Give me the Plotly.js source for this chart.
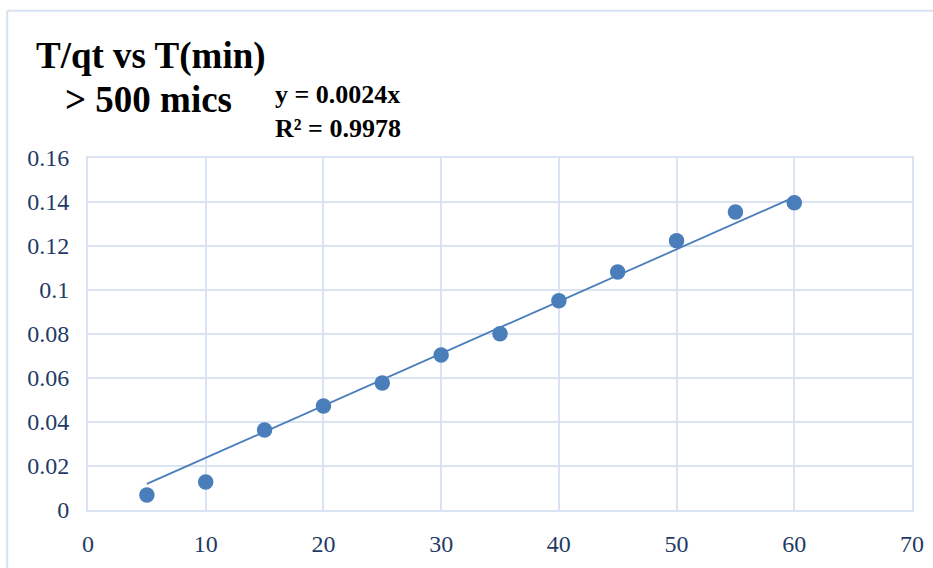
<!DOCTYPE html>
<html><head><meta charset="utf-8">
<script src="https://cdn.plot.ly/plotly-3.0.1.min.js"></script>
<style>html,body{margin:0;padding:0;background:#fff;}#c{width:933px;height:568px;}</style>
</head><body><div id="c"></div>
<script>
const timeMin = [5, 10, 15, 20, 25, 30, 35, 40, 45, 50, 55, 60];
const tOverQt = [0.0068, 0.0127, 0.0364, 0.0473, 0.0577, 0.0705, 0.0801, 0.0951, 0.1082, 0.1224, 0.1355, 0.1397];
const fittedSlope = 0.00237;
const trendX = [5, 60];
const trendY = trendX.map(x => fittedSlope * x);
const xTicks = [0, 10, 20, 30, 40, 50, 60, 70];
const yTicks = [0, 0.02, 0.04, 0.06, 0.08, 0.1, 0.12, 0.14, 0.16];
const yTickText = ['0', '0.02', '0.04', '0.06', '0.08', '0.1', '0.12', '0.14', '0.16'];

const blue = '#4a7ebb';
const grid = '#d9e3f1';
const tickFont = {family: 'Liberation Serif, serif', size: 24, color: '#1f3b66'};

const data = [
  {x: trendX, y: trendY, mode: 'lines', type: 'scatter', line: {color: blue, width: 1.8}, hoverinfo: 'skip', showlegend: false},
  {x: timeMin, y: tOverQt, mode: 'markers', type: 'scatter', marker: {color: blue, size: 15.5}, showlegend: false}
];

const layout = {
  width: 933, height: 568,
  margin: {l: 88, r: 21, t: 158, b: 58},
  paper_bgcolor: '#fff', plot_bgcolor: '#fff',
  xaxis: {range: [0, 70], tickvals: xTicks, ticktext: xTicks.map(String), showgrid: true, gridcolor: grid, gridwidth: 2,
          zeroline: false, showline: true, linecolor: grid, linewidth: 2, mirror: true, tickfont: tickFont,
          ticks: 'outside', ticklen: 11, tickcolor: 'rgba(0,0,0,0)'},
  yaxis: {range: [0, 0.16], tickvals: yTicks, ticktext: yTickText, showgrid: true, gridcolor: grid, gridwidth: 2,
          zeroline: false, showline: true, linecolor: grid, linewidth: 2, mirror: true, tickfont: tickFont,
          ticks: 'outside', ticklen: 12, tickcolor: 'rgba(0,0,0,0)'},
  shapes: [
    {type: 'line', xref: 'paper', yref: 'paper', x0: -0.098, x1: 1.03, y0: 1.418, y1: 1.418, line: {color: '#d6e2f0', width: 2}},
    {type: 'line', xref: 'paper', yref: 'paper', x0: -0.098, x1: -0.098, y0: 1.418, y1: -0.2, line: {color: '#d6e2f0', width: 2}}
  ],
  annotations: [
    {xref: 'paper', yref: 'paper', x: -0.066, y: 1.29, xanchor: 'left', yanchor: 'middle', showarrow: false,
     text: '<b>T/qt vs T(min)</b>', font: {family: 'Liberation Serif, serif', size: 37, color: '#000'}},
    {xref: 'paper', yref: 'paper', x: -0.03, y: 1.165, xanchor: 'left', yanchor: 'middle', showarrow: false,
     text: '<b>&gt; 500 mics</b>', font: {family: 'Liberation Serif, serif', size: 37, color: '#000'}},
    {xref: 'paper', yref: 'paper', x: 0.224, y: 1.131, xanchor: 'left', yanchor: 'middle', showarrow: false, align: 'left',
     text: '<b>y = 0.0024x<br>R² = 0.9978</b>', font: {family: 'Liberation Serif, serif', size: 26, color: '#000'}}
  ]
};
Plotly.newPlot('c', data, layout, {displayModeBar: false, staticPlot: true});
</script></body></html>
